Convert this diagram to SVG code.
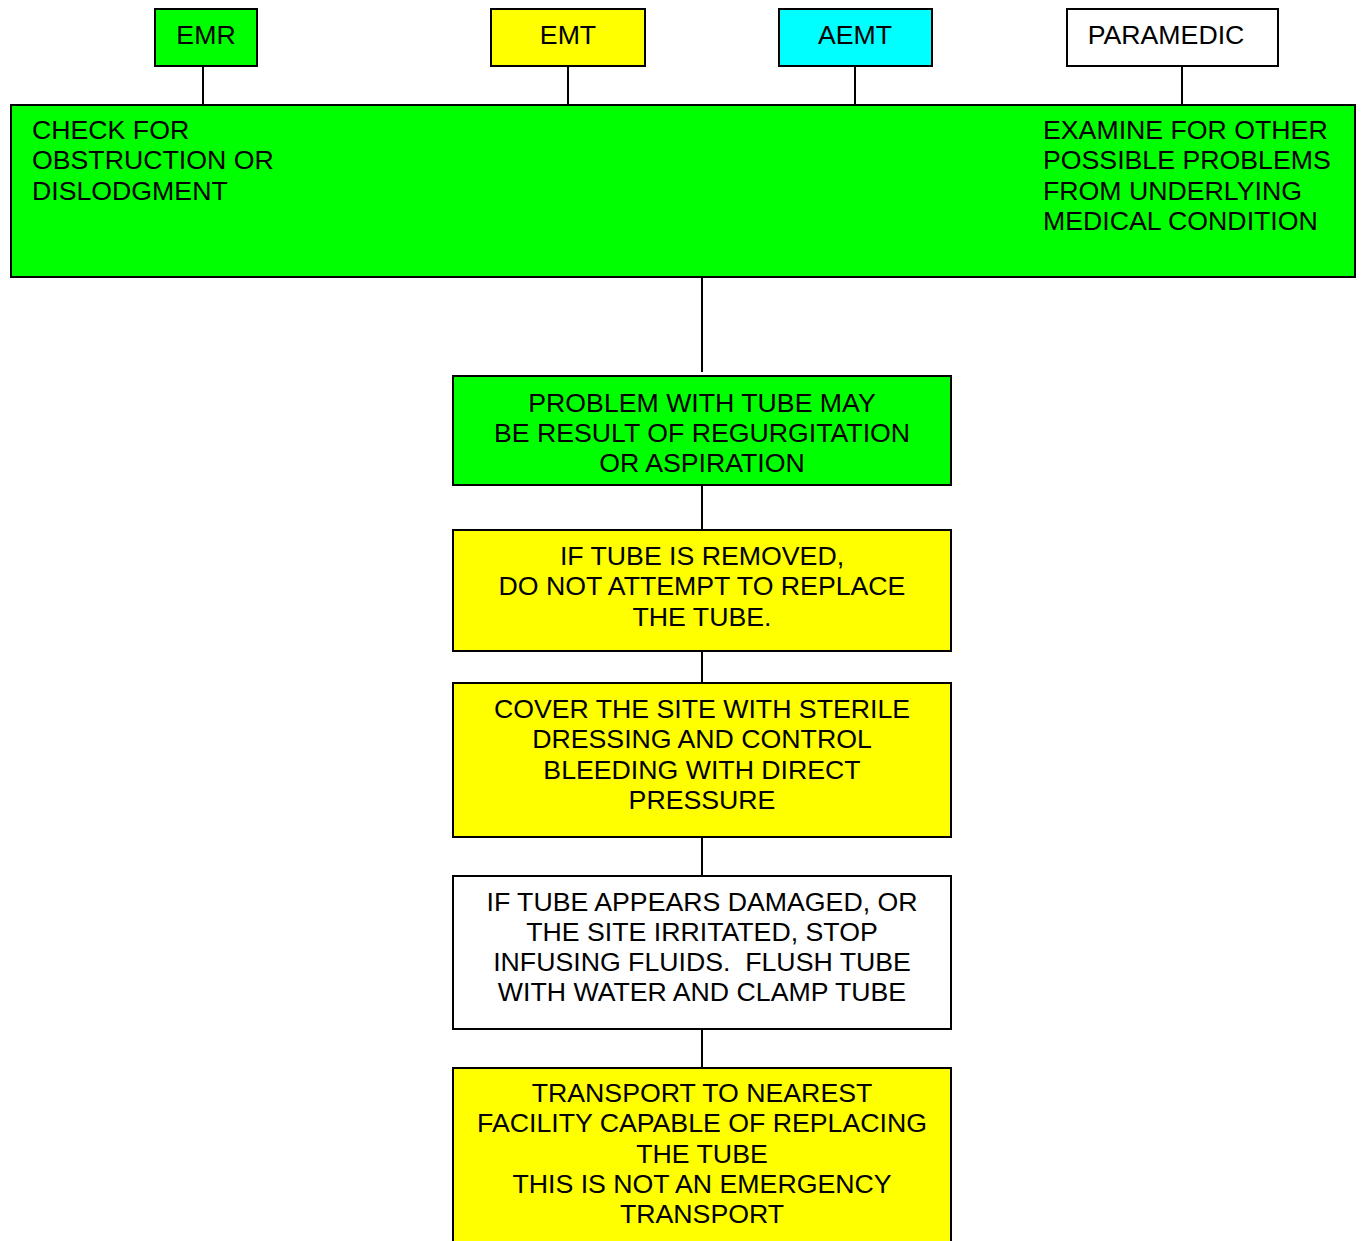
<svg xmlns="http://www.w3.org/2000/svg" width="1361" height="1241" viewBox="0 0 1361 1241">
<style>
.box{stroke:#000;stroke-width:2}
.g{fill:#00FF00}.y{fill:#FFFF00}.c{fill:#00FFFF}.w{fill:#FFFFFF}
text{font-family:"Liberation Sans",Arial,sans-serif;font-size:26.7px;fill:#000}
.m{text-anchor:middle}
.conn line{stroke:#000;stroke-width:2}
</style>
<rect width="1361" height="1241" fill="#fff"/>
<g class="conn" id="connectors">
<line x1="203" y1="66" x2="203" y2="105"/>
<line x1="568" y1="66" x2="568" y2="105"/>
<line x1="855" y1="66" x2="855" y2="105"/>
<line x1="1182" y1="66" x2="1182" y2="105"/>
<line x1="702" y1="277" x2="702" y2="372"/>
<line x1="702" y1="485" x2="702" y2="530"/>
<line x1="702" y1="651" x2="702" y2="683"/>
<line x1="702" y1="830" x2="702" y2="876"/>
<line x1="702" y1="1023" x2="702" y2="1067"/>
</g>
<g id="emr"><rect class="box g" x="155" y="9" width="102" height="57"/><text class="m" x="206" y="44">EMR</text></g>
<g id="emt"><rect class="box y" x="491" y="9" width="154" height="57"/><text class="m" x="568" y="44">EMT</text></g>
<g id="aemt"><rect class="box c" x="779" y="9" width="153" height="57"/><text class="m" x="855" y="44">AEMT</text></g>
<g id="paramedic"><rect class="box w" x="1067" y="9" width="211" height="57"/><text class="m" x="1166" y="44">PARAMEDIC</text></g>
<g id="check">
<rect class="box g" x="11" y="105" width="1344" height="172"/>
<text x="32" y="139">CHECK FOR</text>
<text x="32" y="169">OBSTRUCTION OR</text>
<text x="32" y="200">DISLODGMENT</text>
<text x="1043" y="139">EXAMINE FOR OTHER</text>
<text x="1043" y="169">POSSIBLE PROBLEMS</text>
<text x="1043" y="200">FROM UNDERLYING</text>
<text x="1043" y="230">MEDICAL CONDITION</text>
</g>
<g id="problem">
<rect class="box g" x="453" y="376" width="498" height="109"/>
<text class="m" x="702" y="412">PROBLEM WITH TUBE MAY</text>
<text class="m" x="702" y="442">BE RESULT OF REGURGITATION</text>
<text class="m" x="702" y="472">OR ASPIRATION</text>
</g>
<g id="removed">
<rect class="box y" x="453" y="530" width="498" height="121"/>
<text class="m" x="702" y="565">IF TUBE IS REMOVED,</text>
<text class="m" x="702" y="595">DO NOT ATTEMPT TO REPLACE</text>
<text class="m" x="702" y="626">THE TUBE.</text>
</g>
<g id="cover">
<rect class="box y" x="453" y="683" width="498" height="154"/>
<text class="m" x="702" y="718">COVER THE SITE WITH STERILE</text>
<text class="m" x="702" y="748">DRESSING AND CONTROL</text>
<text class="m" x="702" y="779">BLEEDING WITH DIRECT</text>
<text class="m" x="702" y="809">PRESSURE</text>
</g>
<g id="damaged">
<rect class="box w" x="453" y="876" width="498" height="153"/>
<text class="m" x="702" y="911">IF TUBE APPEARS DAMAGED, OR</text>
<text class="m" x="702" y="941">THE SITE IRRITATED, STOP</text>
<text class="m" x="702" y="971" xml:space="preserve">INFUSING FLUIDS.  FLUSH TUBE</text>
<text class="m" x="702" y="1001">WITH WATER AND CLAMP TUBE</text>
</g>
<g id="transport">
<rect class="box y" x="453" y="1068" width="498" height="190"/>
<text class="m" x="702" y="1102">TRANSPORT TO NEAREST</text>
<text class="m" x="702" y="1132">FACILITY CAPABLE OF REPLACING</text>
<text class="m" x="702" y="1163">THE TUBE</text>
<text class="m" x="702" y="1193">THIS IS NOT AN EMERGENCY</text>
<text class="m" x="702" y="1223">TRANSPORT</text>
</g>
</svg>
